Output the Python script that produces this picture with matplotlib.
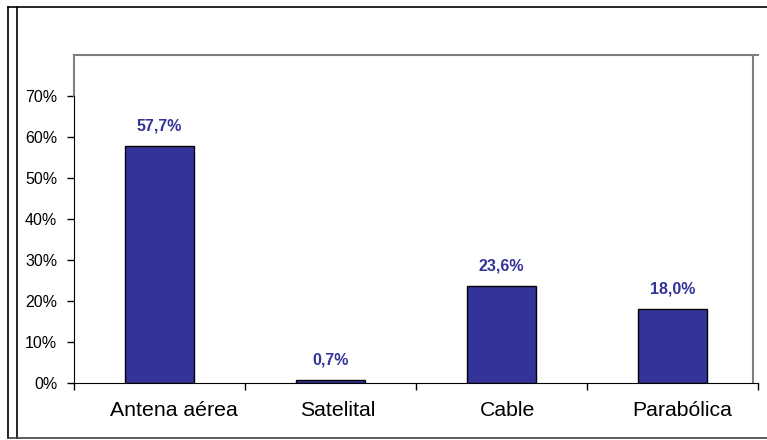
import matplotlib.pyplot as plt
import matplotlib.transforms as mtransforms
from matplotlib.lines import Line2D
from matplotlib.ticker import PercentFormatter

plt.rcParams['font.family'] = ['Liberation Sans', 'DejaVu Sans']

categories = ['Antena aérea', 'Satelital', 'Cable', 'Parabólica']
values = [57.7, 0.7, 23.6, 18.0]
labels = ['57,7%', '0,7%', '23,6%', '18,0%']
yticks = [0, 10, 20, 30, 40, 50, 60, 70]

W, H = 767, 440
fig = plt.figure(figsize=(W / 100, H / 100), dpi=100)
ax = fig.add_axes([74 / W, (H - 383) / H, (758 - 74) / W, (383 - 55) / H])

x = range(len(categories))
bars = ax.bar(x, values, width=0.405, color='#333399', edgecolor='black', linewidth=1, zorder=3)

for b, lab in zip(bars, labels):
    ax.annotate(lab, (b.get_x() + b.get_width() / 2, b.get_height()),
                xytext=(0, 9), textcoords='offset points', ha='center', va='bottom',
                fontsize=11.5, fontweight='bold', color='#333399')

ax.set_xlim(-0.5, 3.5)
ax.set_ylim(0, 80)
ax.set_yticks(yticks)
ax.yaxis.set_major_formatter(PercentFormatter(decimals=0))
ax.set_xticks(x)
ax.set_xticklabels(categories, fontsize=15.3)
ax.set_xticks([-0.5, 0.5, 1.5, 2.5, 3.5], minor=True)
ax.tick_params(axis='x', which='major', length=0, pad=13)
ax.tick_params(axis='x', which='minor', length=5, width=1, color='black')
ax.tick_params(axis='y', length=5, width=1, labelsize=11.5, pad=7)

# category labels sit a little right of the bar centres, as in the original
for lbl, dx in zip(ax.get_xticklabels(), [14, 7, 6, 10]):
    lbl.set_transform(lbl.get_transform() + mtransforms.ScaledTranslation(dx / 100, 0, fig.dpi_scale_trans))

ax.spines['left'].set_bounds(0, 70)
ax.spines['left'].set_color('black')
ax.spines['bottom'].set_color('black')
ax.spines['top'].set_color('#808080')
ax.spines['top'].set_linewidth(1.5)
ax.spines['right'].set_visible(False)
ax.axvline(3.5 - 5 / 171, color='#808080', linewidth=1.5)
# gray part of the frame above 70%
ax.plot([-0.5, -0.5], [70, 80], color='#808080', linewidth=1.5, clip_on=False)

# outer border of the chart area
def fline(x0, y0, x1, y1, color='black', lw=1.2):
    fig.add_artist(Line2D([x0 / W, x1 / W], [1 - y0 / H, 1 - y1 / H], color=color, linewidth=lw))

fline(8, 7, 767, 7)
fline(8, 7, 8, 438)
fline(17, 7, 17, 438)
fline(8, 438, 767, 438, color='#404040')

fig.savefig('out.png', dpi=100)
